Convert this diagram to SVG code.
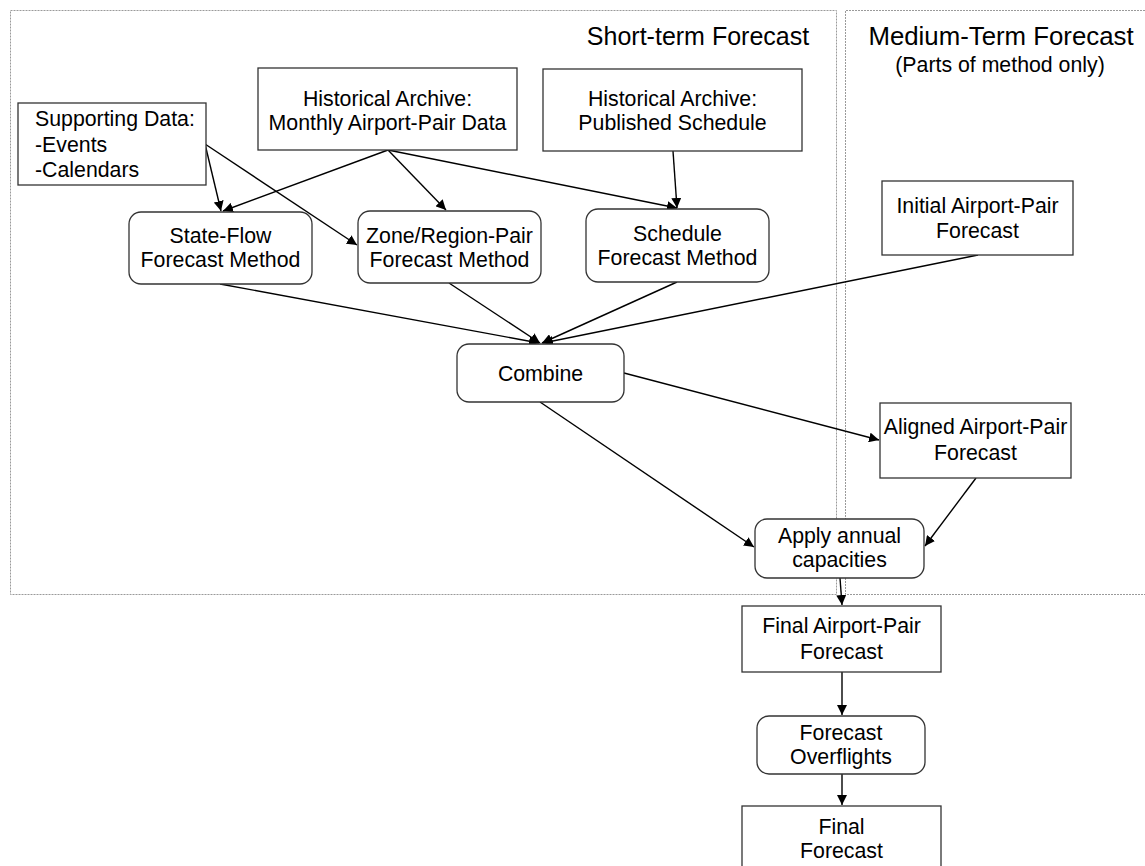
<svg xmlns="http://www.w3.org/2000/svg" width="1145" height="866" viewBox="0 0 1145 866">
<defs>
<marker id="ah" viewBox="0 0 10 10" refX="10" refY="5" markerWidth="10" markerHeight="10" markerUnits="userSpaceOnUse" orient="auto">
<path d="M0,0 L10,5 L0,10 z" fill="#000"/>
</marker>
<style>
.region{fill:none;stroke:#9a9a9a;stroke-width:1;stroke-dasharray:2,1}
.box{fill:#fff;stroke:#333;stroke-width:1.3}
.t{font-family:"Liberation Sans",Arial,sans-serif;font-size:21.3px;fill:#000;text-anchor:middle}
.tl{font-family:"Liberation Sans",Arial,sans-serif;font-size:21.3px;fill:#000}
.title{font-family:"Liberation Sans",Arial,sans-serif;font-size:25px;fill:#000;text-anchor:middle}
.c{stroke:#000;stroke-width:1.4;fill:none;marker-end:url(#ah)}
</style>
</defs>
<rect width="1145" height="866" fill="#fff"/>
<g id="regions">
<rect class="region" x="10.5" y="10.5" width="826" height="584"/>
<path class="region" d="M1145,10.5 H845.5 V594.5 H1145"/>
<text class="title" x="698" y="45">Short-term Forecast</text>
<text class="title" x="1001" y="45" style="font-size:25.8px">Medium-Term Forecast</text>
<text class="t" x="1000" y="72">(Parts of method only)</text>
</g>
<g id="connectors">
<line class="c" x1="205" y1="144" x2="221" y2="211"/>
<line class="c" x1="205" y1="144" x2="357" y2="245"/>
<line class="c" x1="388" y1="150" x2="223" y2="211"/>
<line class="c" x1="388" y1="150" x2="446" y2="210"/>
<line class="c" x1="388" y1="150" x2="677" y2="208"/>
<line class="c" x1="673" y1="151" x2="677" y2="208"/>
<line class="c" x1="220" y1="284" x2="539" y2="343"/>
<line class="c" x1="449" y1="283" x2="540" y2="343"/>
<line class="c" x1="677" y1="282" x2="542" y2="343"/>
<line class="c" x1="978" y1="255" x2="543" y2="343"/>
<line class="c" x1="624" y1="373" x2="879" y2="440"/>
<line class="c" x1="540" y1="402" x2="754" y2="547"/>
<line class="c" x1="976" y1="478" x2="925" y2="546"/>
<line class="c" x1="840" y1="578" x2="842" y2="605"/>
<line class="c" x1="842" y1="672" x2="842" y2="715"/>
<line class="c" x1="842" y1="774" x2="842" y2="805"/>
</g>
<g id="supporting-data">
<rect class="box" x="18" y="103" width="188" height="82"/>
<text class="tl" x="35" y="126">Supporting Data:</text>
<text class="tl" x="35" y="152">-Events</text>
<text class="tl" x="35" y="177">-Calendars</text>
</g>
<g id="hist-monthly">
<rect class="box" x="258" y="68" width="259" height="82"/>
<text class="t" x="387.5" y="106">Historical Archive:</text>
<text class="t" x="387.5" y="130">Monthly Airport-Pair Data</text>
</g>
<g id="hist-schedule">
<rect class="box" x="543" y="69" width="259" height="82"/>
<text class="t" x="672.5" y="106">Historical Archive:</text>
<text class="t" x="672.5" y="130">Published Schedule</text>
</g>
<g id="state-flow">
<rect class="box" x="129" y="212" width="183" height="72" rx="12"/>
<text class="t" x="220.5" y="243">State-Flow</text>
<text class="t" x="220.5" y="267">Forecast Method</text>
</g>
<g id="zone-region">
<rect class="box" x="358" y="211" width="183" height="72" rx="12"/>
<text class="t" x="449.5" y="243">Zone/Region-Pair</text>
<text class="t" x="449.5" y="267">Forecast Method</text>
</g>
<g id="schedule">
<rect class="box" x="586" y="209" width="183" height="73" rx="12"/>
<text class="t" x="677.5" y="241">Schedule</text>
<text class="t" x="677.5" y="265">Forecast Method</text>
</g>
<g id="initial">
<rect class="box" x="882" y="181" width="191" height="74"/>
<text class="t" x="977.5" y="213">Initial Airport-Pair</text>
<text class="t" x="977.5" y="238">Forecast</text>
</g>
<g id="combine">
<rect class="box" x="457" y="344" width="167" height="58" rx="12"/>
<text class="t" x="540.5" y="381">Combine</text>
</g>
<g id="aligned">
<rect class="box" x="880" y="403" width="191" height="75"/>
<text class="t" x="975.5" y="434">Aligned Airport-Pair</text>
<text class="t" x="975.5" y="460">Forecast</text>
</g>
<g id="apply">
<rect class="box" x="755" y="519" width="169" height="59" rx="12"/>
<text class="t" x="839.5" y="543">Apply annual</text>
<text class="t" x="839.5" y="567">capacities</text>
</g>
<g id="final-pair">
<rect class="box" x="742" y="606" width="199" height="66"/>
<text class="t" x="841.5" y="633">Final Airport-Pair</text>
<text class="t" x="841.5" y="659">Forecast</text>
</g>
<g id="overflights">
<rect class="box" x="757" y="716" width="168" height="58" rx="12"/>
<text class="t" x="841" y="740">Forecast</text>
<text class="t" x="841" y="764">Overflights</text>
</g>
<g id="final">
<rect class="box" x="742" y="806" width="199" height="70"/>
<text class="t" x="841.5" y="834">Final</text>
<text class="t" x="841.5" y="858">Forecast</text>
</g>
</svg>
